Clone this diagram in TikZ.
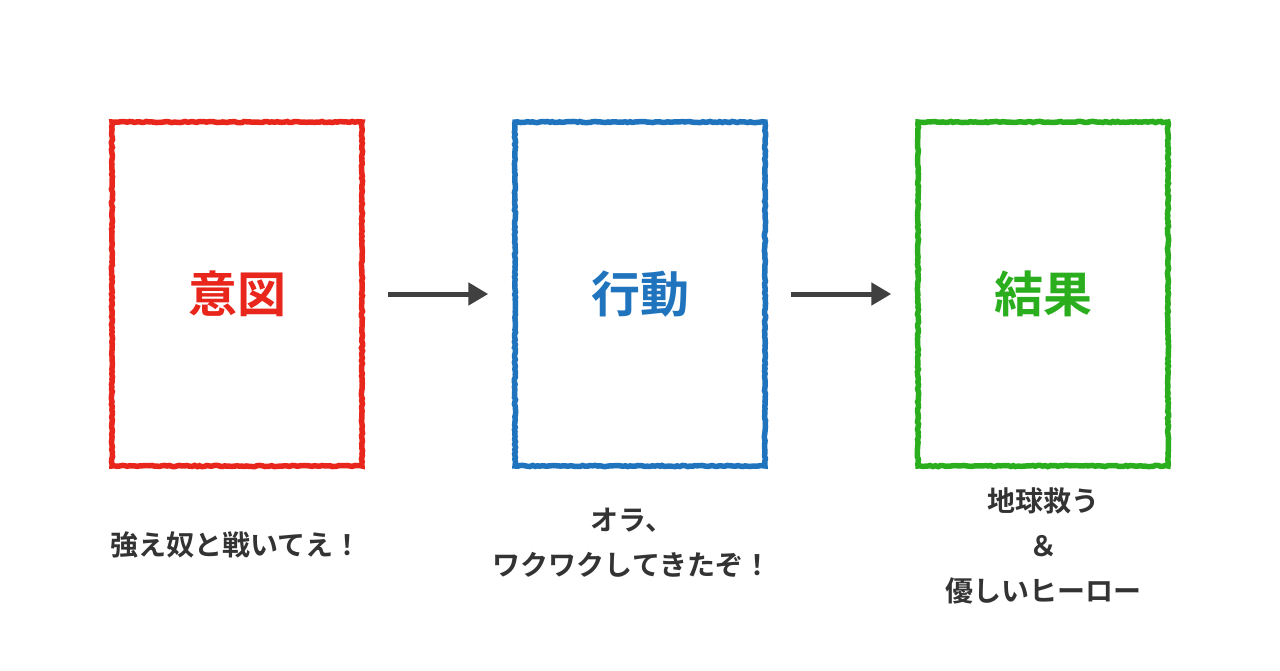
\documentclass[tikz,border=0pt]{standalone}
\usepackage{fontspec}
\newfontfamily\cjk{Noto Sans CJK JP}[BoldFont={* Bold}]
\usetikzlibrary{arrows.meta,decorations.pathmorphing}
\definecolor{cred}{HTML}{E8261C}
\definecolor{cblue}{HTML}{1F74BD}
\definecolor{cgreen}{HTML}{2BAE1E}
\definecolor{ctext}{HTML}{333333}
\definecolor{carrow}{HTML}{404040}
\tikzset{
  box/.style={draw=#1, line width=5.5pt, minimum width=250pt, minimum height=344pt,
    decorate, decoration={random steps, segment length=2.5pt, amplitude=0.6pt},
    text=#1, font=\cjk\bfseries\fontsize{49}{52}\selectfont, inner sep=0pt},
  caption/.style={text=ctext, font=\cjk\bfseries\fontsize{28}{45}\selectfont, align=center},
  flow/.style={draw=carrow, line width=5pt, -{Triangle[length=20pt,width=22pt]}, shorten <=23pt, shorten >=24pt}
}
\pgfmathsetseed{7}
\begin{document}
\begin{tikzpicture}[x=1pt,y=-1pt]
\useasboundingbox[fill=white] (0,0) rectangle (1280,670);
\node[box=cred] (b1) at (237,294) {意図};
\node[box=cblue] (b2) at (640,294) {行動};
\node[box=cgreen] (b3) at (1043,294) {結果};
\draw[flow] (b1.east) -- (b2.west);
\draw[flow] (b2.east) -- (b3.west);
\node[caption] (c1) at (236,545) {強え奴と戦いてえ！};
\node[caption] (c2) at (632,543) {オラ、\\ワクワクしてきたぞ！};
\node[caption] (c3) at (1043,546) {地球救う\\＆\\優しいヒーロー};
\end{tikzpicture}
\end{document}
